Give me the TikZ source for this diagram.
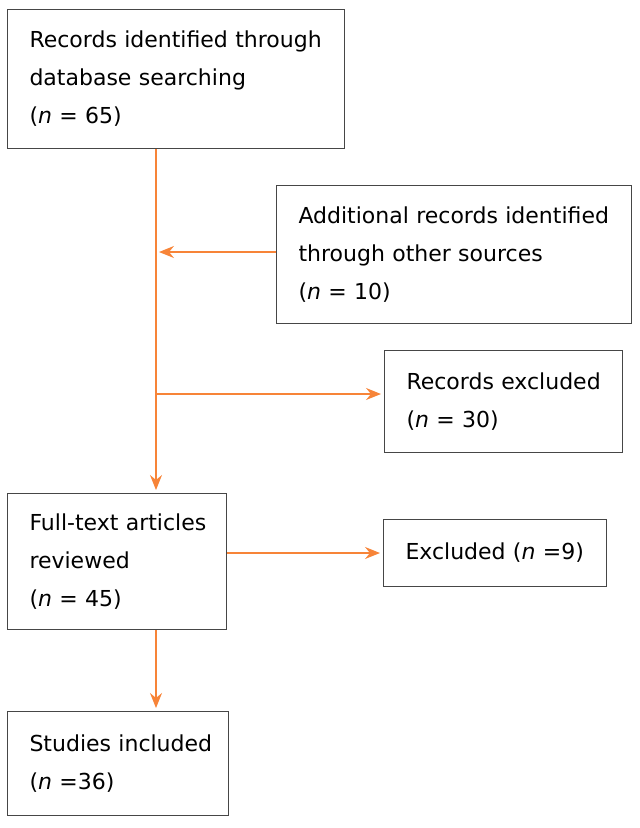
\documentclass[tikz,border=0pt]{standalone}
\usepackage{fontspec}
\setmainfont{DejaVu Sans}
\usetikzlibrary{arrows.meta,positioning}
\definecolor{FlowColor}{RGB}{247,132,56}
\definecolor{BoxColor}{RGB}{70,70,70}

\begin{document}
\begin{tikzpicture}[x=1pt, y=-1pt,
    font=\fontsize{22}{38}\selectfont,
    box/.style={draw=BoxColor, line width=1pt, rectangle, anchor=north west,
        align=left, inner xsep=0pt, inner ysep=0pt,
        execute at begin node={\leftskip=22pt\hyphenpenalty=10000}},
    flow/.style={draw=FlowColor, line width=1.4pt},
    arrow/.style={flow, -{Stealth[length=15pt, width=12pt, inset=5pt]}, shorten >=3pt}]

    \useasboundingbox (0,0) rectangle (640,828);

    % boxes
    \node[box, text width=337pt, minimum height=139pt] (Search) at (7,9)
        {Records identified through\\database searching\\(\textit{n} = 65)};
    \node[box, text width=355pt, minimum height=138pt] (Other) at (276,185)
        {Additional records identified\\through other sources\\(\textit{n} = 10)};
    \node[box, text width=238pt, minimum height=102pt] (Excl) at (384,350)
        {Records excluded\\(\textit{n} = 30)};
    \node[box, text width=219pt, minimum height=136pt] (Full) at (7,493)
        {Full-text articles\\reviewed\\(\textit{n} = 45)};
    \node[box, text width=223pt, minimum height=67pt] (FullExcl) at (383,519)
        {Excluded (\textit{n} =9)};
    \node[box, text width=221pt, minimum height=104pt] (Incl) at (7,711)
        {Studies included\\(\textit{n} =36)};

    % connectors
    \coordinate (Trunk) at (156,0);
    \coordinate (Join) at (156,252);
    \coordinate (Split) at (156,394);

    \draw[arrow] (Search.south -| Trunk) -- (Full.north -| Trunk);
    \draw[arrow] (Other.west |- Join) -- (Join);
    \draw[arrow] (Split) -- (Excl.west |- Split);
    \draw[arrow] (Full.east |- FullExcl.west) -- (FullExcl.west);
    \draw[arrow] (Full.south -| Trunk) -- (Incl.north -| Trunk);

\end{tikzpicture}
\end{document}
